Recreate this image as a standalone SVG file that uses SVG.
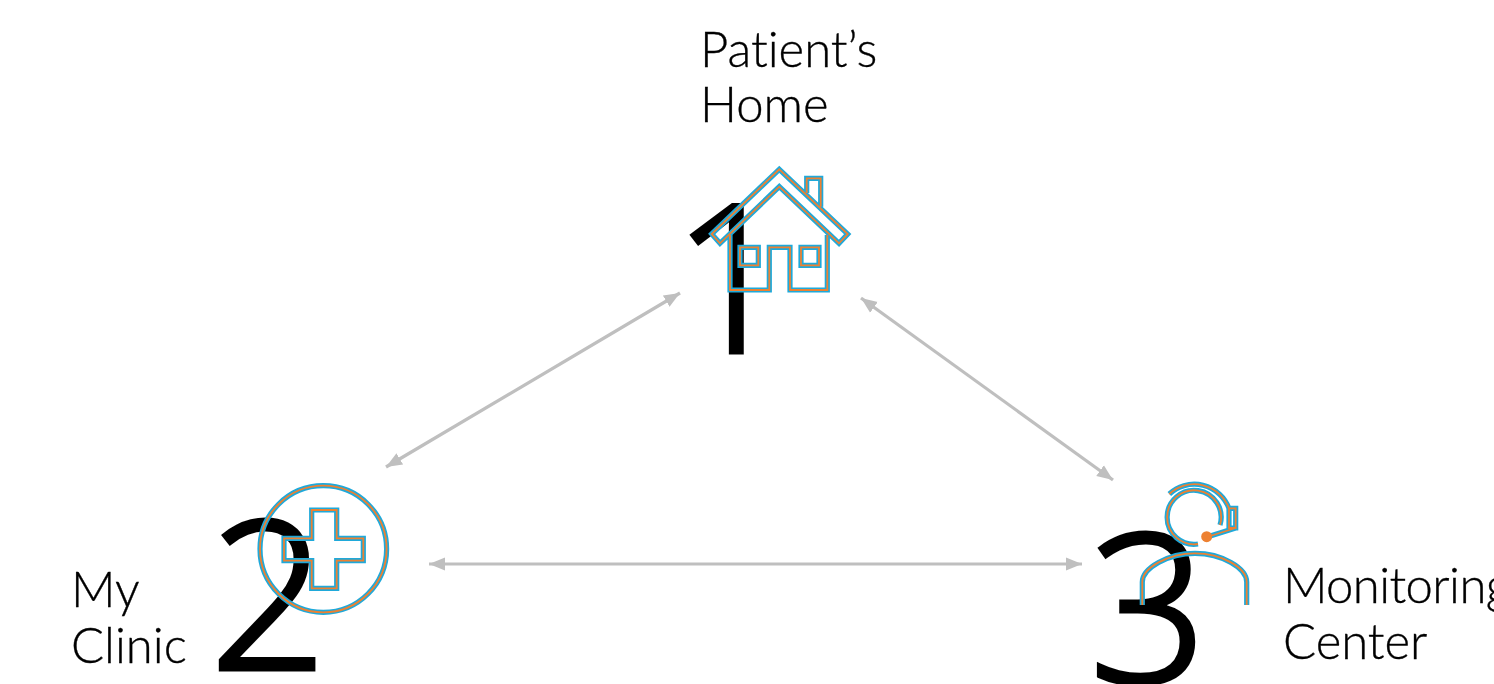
<svg xmlns="http://www.w3.org/2000/svg" width="1494" height="684" viewBox="0 0 1494 684">
<style>
text{font-family:"Lato","Liberation Sans",sans-serif;font-weight:300;fill:#000;font-variant-ligatures:none}
.lbl{font-size:49px;stroke:#000;stroke-width:.35}
.num{font-family:"Open Sans","Liberation Sans",sans-serif;font-size:205px;stroke:#000;stroke-width:5}
.b{fill:none;stroke:#1fa9da;stroke-width:5.2;stroke-linejoin:miter}
.o{fill:none;stroke:#ed8132;stroke-width:1.8;stroke-linejoin:miter}
.conn{fill:none;stroke:#bfbfbf;stroke-width:3.2;marker-start:url(#a);marker-end:url(#a)}
</style>
<defs>
<marker id="a" markerUnits="userSpaceOnUse" markerWidth="17" markerHeight="14" refX="16" refY="7" orient="auto-start-reverse"><path d="M0 0.5L16 7L0 13.5Z" fill="#bfbfbf"/></marker>
<path id="house" d="M779.3 169.3L847.7 234L839 243.3L779.3 186.7L720 243.3L711.7 234ZM806.7 193V178.3H820.7V206.7M730 235V290H769.3V247.3H790V290H827.3V235M740 247.3H758.3V265.3H740ZM801 247.3H819V265.3H801Z"/>
<path id="clinic" d="M260 549a63.3 63.3 0 1 0 126.6 0a63.3 63.3 0 1 0-126.6 0ZM311.7 510H336.7V538.3H363.3V560.7H336.7V588.3H311.7V560.7H284V538.3H311.7Z"/>
<path id="agent" d="M1198 544A27 27 0 1 1 1220 525M1169.3 494A37 37 0 0 1 1229 508.3H1235.7V528H1229V508.3M1235.7 528L1207 537M1142.3 605V582C1142.3 568 1168 553.3 1195 553.3C1222 553.3 1246.7 568 1246.7 582V605"/>
</defs>
<g id="connectors">
<path class="conn" d="M680 293L386 467"/>
<path class="conn" d="M861 298L1113 480"/>
<path class="conn" d="M429 564H1082"/>
</g>
<g id="node-home">
<text class="lbl" x="700" y="67">Patient’s</text>
<text class="lbl" x="700" y="122">Home</text>
<text class="num" x="673" y="352">1</text>
<use href="#house" class="b"/><use href="#house" class="o"/>
</g>
<g id="node-clinic">
<text class="lbl" x="71" y="607">My</text>
<text class="lbl" x="71" y="663">Clinic</text>
<text class="num" x="210" y="668.500">2</text>
<use href="#clinic" class="b"/><use href="#clinic" class="o"/>
</g>
<g id="node-center">
<text class="lbl" x="1283" y="603" letter-spacing="-.6">Monitoring</text>
<text class="lbl" x="1283" y="659">Center</text>
<text class="num" x="1090" y="682">3</text>
<use href="#agent" class="b"/><use href="#agent" class="o"/>
<circle cx="1206.7" cy="536.7" r="5.500" fill="#ed8132"/>
</g>
</svg>
